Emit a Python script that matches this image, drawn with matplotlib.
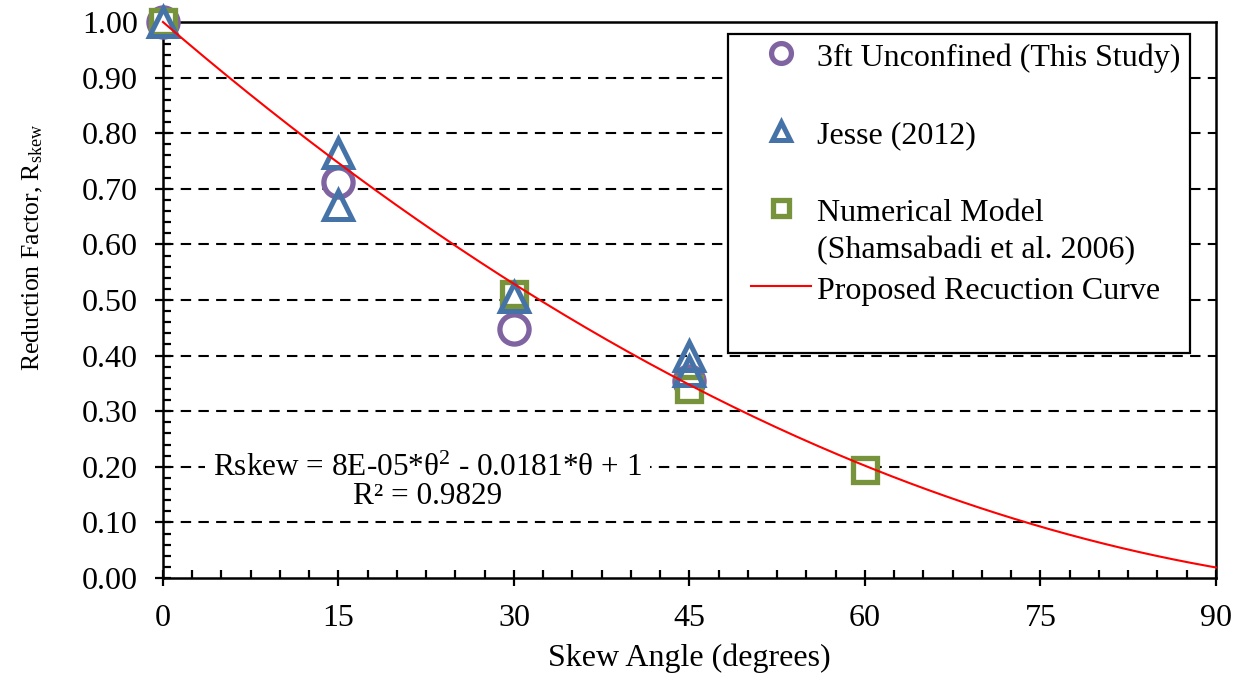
import numpy as np
import matplotlib
matplotlib.use("Agg")
import matplotlib.pyplot as plt
from matplotlib.legend_handler import HandlerLine2D

plt.rcParams['font.family'] = ['Liberation Serif', 'DejaVu Serif']
plt.rcParams['mathtext.fontset'] = 'custom'
plt.rcParams['mathtext.rm'] = 'Liberation Serif'
plt.rcParams['mathtext.it'] = 'Liberation Serif:italic'

# measured reduction factors
unconf_angle = [0, 15, 30, 45]
unconf_r = [1.0, 0.713, 0.447, 0.355]

jesse_angle = [0, 15, 15, 30, 45, 45]
jesse_r = [1.0, 0.765, 0.670, 0.505, 0.400, 0.372]

numer_angle = [0, 30, 45, 60]
numer_r = [1.0, 0.51, 0.34, 0.195]

# quadratic fit  Rskew = a*theta^2 + b*theta + c
fit_a = 8e-05
fit_b = -0.0181
fit_c = 1.0
fit_r2 = 0.9829

x_ticks = [0, 15, 30, 45, 60, 75, 90]
y_ticks = [0.0, 0.1, 0.2, 0.3, 0.4, 0.5, 0.6, 0.7, 0.8, 0.9, 1.0]

purple = '#8064A2'
blue = '#4572A7'
green = '#77933C'


class RaisedHandler(HandlerLine2D):
    """Line2D legend handle moved up so it sits next to the first text line."""
    def __init__(self, raise_by=0.0, **kw):
        super().__init__(**kw)
        self.raise_by = raise_by

    def create_artists(self, *args, **kwargs):
        arts = super().create_artists(*args, **kwargs)
        for a in arts:
            a.set_ydata(np.asarray(a.get_ydata(), dtype=float) + self.raise_by)
        return arts


fig = plt.figure(figsize=(12.42, 6.77), dpi=100)
ax = fig.add_axes([0.1312, 0.1462, 0.8478, 0.8213])

ax.plot(unconf_angle, unconf_r, ls='none', marker='o', ms=21, mew=3.8,
        mec=purple, mfc='white', clip_on=False, zorder=3,
        label='3ft Unconfined (This Study)\n')
ax.plot(numer_angle, numer_r, ls='none', marker='s', ms=17, mew=3.8,
        mec=green, mfc='white', clip_on=False, zorder=4,
        label='Numerical Model\n(Shamsabadi et al. 2006)')
ax.plot(jesse_angle, jesse_r, ls='none', marker='^', ms=20, mew=3.6,
        mec=blue, mfc='none', clip_on=False, zorder=5,
        label='Jesse (2012)\n')

theta = np.linspace(0, 90, 300)
ax.plot(theta, fit_a * theta**2 + fit_b * theta + fit_c, color='red',
        lw=1.5, zorder=6, clip_on=False, label='Proposed Recuction Curve\n')

ax.text(22.6, 0.172,
        'Rskew = 8E-05*θ$^{2}$ - 0.0181*θ + 1\nR² = %.4f' % fit_r2,
        ha='center', va='center', multialignment='center', fontsize=22.5,
        linespacing=0.95,
        bbox=dict(facecolor='white', edgecolor='none', pad=6), zorder=2)

ax.set_xlim(0, 90)
ax.set_ylim(0, 1.0)
ax.set_xticks(x_ticks)
ax.set_xticks(np.arange(0, 90.1, 2.5), minor=True)
ax.set_yticks(y_ticks)
ax.set_yticks(np.arange(0, 1.001, 0.02), minor=True)
ax.set_yticklabels(['%.2f' % v for v in y_ticks])

ax.tick_params(which='major', direction='inout', length=12, width=1.6,
               labelsize=23, colors='black')
ax.tick_params(axis='x', which='major', pad=13)
ax.tick_params(axis='y', which='major', pad=12)
ax.tick_params(which='minor', direction='in', length=6, width=1.6)

for s in ax.spines.values():
    s.set_linewidth(1.8)

ax.yaxis.grid(True, which='major', color='black', lw=1.5,
              linestyle=(0, (5, 3.5)))
ax.set_axisbelow(True)
# grid lines at 0 and 1 fall on the frame
glines = ax.yaxis.get_gridlines()
glines[0].set_visible(False)
glines[-1].set_visible(False)

ax.set_xlabel('Skew Angle (degrees)', fontsize=23, labelpad=7)
ax.set_ylabel('Reduction Factor, R$_{\\mathregular{skew}}$', fontsize=18.5)
ax.yaxis.set_label_coords(-0.112, 0.595)

# legend: one blank line after single-line labels so every entry spans two lines
leg_fs = 23
handlers = {h: RaisedHandler(raise_by=17.0, xpad=0.42)
            for h in ax.get_lines()}
handles, labels = ax.get_legend_handles_labels()
order = [0, 2, 1, 3]
leg = ax.legend([handles[i] for i in order], [labels[i] for i in order],
                handler_map=handlers, loc='upper right',
                bbox_to_anchor=(0.9753, 0.978), borderaxespad=0,
                fontsize=leg_fs, frameon=True, fancybox=False,
                edgecolor='black', framealpha=1, borderpad=0.3,
                labelspacing=0.345, handlelength=2.31, handletextpad=0.19,
                markerscale=0.68)
leg.get_frame().set_linewidth(1.6)
leg.set_zorder(10)
for t in leg.get_texts():
    t.set_linespacing(1.375)

fig.savefig('out.png', dpi=100)
